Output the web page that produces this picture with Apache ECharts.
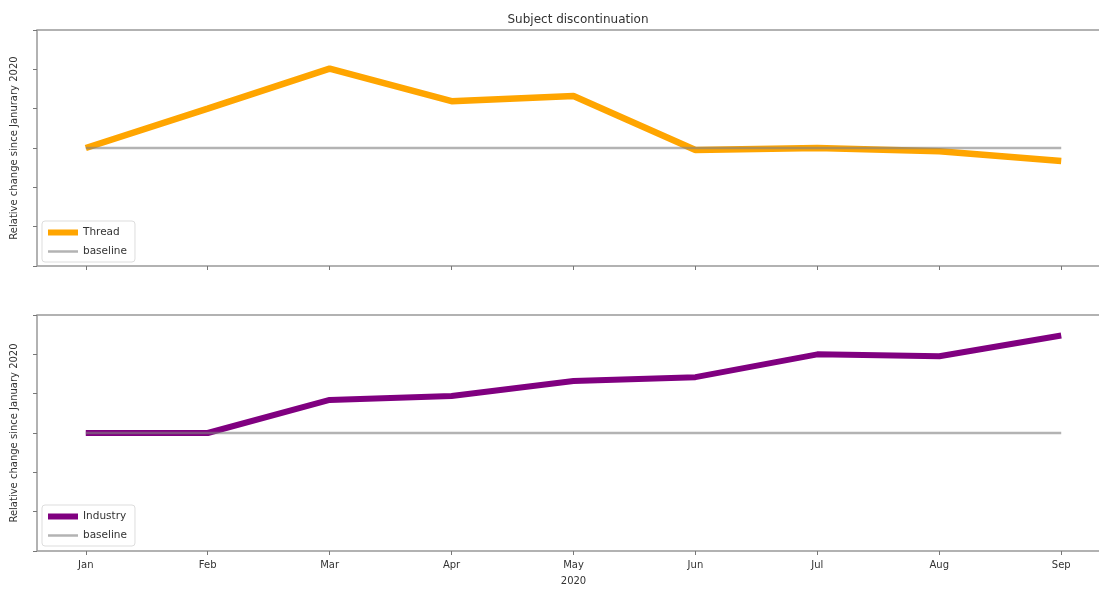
<!DOCTYPE html>
<html>
<head>
<meta charset="utf-8">
<script src="https://cdn.jsdelivr.net/npm/echarts@6/dist/echarts.min.js"></script>
<style>
  html, body { margin: 0; padding: 0; background: #fff; }
  #chart { width: 1099px; height: 589px; }
</style>
</head>
<body>
<div id="chart"></div>
<script>
const months = ['Jan', 'Feb', 'Mar', 'Apr', 'May', 'Jun', 'Jul', 'Aug', 'Sep']
const threadValues = [0, 1.0, 2.02, 1.19, 1.32, -0.05, 0.0, -0.08, -0.33]
const industryValues = [0, 0, 0.84, 0.94, 1.32, 1.42, 2.0, 1.95, 2.48]
const baselineValues = [0, 0, 0, 0, 0, 0, 0, 0, 0]
const yTicks = [-3, -2, -1, 0, 1, 2, 3]

const font = 'DejaVu Sans'
const monthIdx = months.map((m, i) => i)
const pairs = (vals) => vals.map((v, i) => [i, v])

const orange = '#FFA500'
const purple = '#800080'
const grey = 'rgba(128,128,128,0.6)'

const chart = echarts.init(document.getElementById('chart'))

const xAxisFor = (gridIndex, showLabels) => ({
  type: 'value',
  gridIndex,
  min: -0.4,
  max: 8.4,
  splitLine: { show: false },
  axisLine: { show: false, onZero: false },
  axisTick: {
    show: true,
    customValues: monthIdx,
    length: 4,
    lineStyle: { color: '#777' }
  },
  axisLabel: {
    show: showLabels,
    customValues: monthIdx,
    formatter: (v) => months[Math.round(v)],
    color: '#333',
    fontFamily: font,
    fontSize: 10,
    margin: 9
  },
  name: showLabels ? '2020' : '',
  nameLocation: 'middle',
  nameGap: 25,
  nameTextStyle: { color: '#333', fontFamily: font, fontSize: 10 }
})

const yAxisFor = (gridIndex, name) => ({
  type: 'value',
  gridIndex,
  min: yTicks[0],
  max: yTicks[yTicks.length - 1],
  interval: 1,
  splitLine: { show: false },
  axisLine: { show: false, onZero: false },
  axisTick: { show: true, length: 4, lineStyle: { color: '#777' } },
  axisLabel: { show: false },
  name,
  nameLocation: 'middle',
  nameGap: 18,
  nameTextStyle: { color: '#333', fontFamily: font, fontSize: 10 }
})

const baselineSeries = (idx) => ({
  name: 'baseline',
  type: 'line',
  xAxisIndex: idx,
  yAxisIndex: idx,
  data: pairs(baselineValues),
  showSymbol: false,
  symbol: 'none',
  z: 3,
  lineStyle: { color: grey, width: 2.5 },
  itemStyle: { color: grey }
})

const legendFor = (top, main, color) => ({
  orient: 'vertical',
  left: 42,
  top,
  data: [
    { name: main, lineStyle: { color, width: 6 } },
    { name: 'baseline', lineStyle: { color: grey, width: 2.5 } }
  ],
  itemWidth: 30,
  itemHeight: 10,
  itemGap: 8,
  padding: [6, 8, 5, 3],
  itemStyle: { color: 'transparent', borderColor: 'transparent', borderWidth: 0, opacity: 0 },
  backgroundColor: '#fff',
  borderColor: '#ddd',
  borderWidth: 1,
  borderRadius: 3,
  textStyle: { color: '#333', fontFamily: font, fontSize: 10.5 }
})

const gridFor = (top) => ({
  left: 37,
  width: 1073,
  top,
  height: 236,
  outerBoundsMode: 'none',
  show: true,
  borderColor: '#999',
  borderWidth: 1.5,
  backgroundColor: 'transparent'
})

const option = {
  animation: false,
  backgroundColor: '#fff',
  title: {
    text: 'Subject discontinuation',
    left: 573,
    textAlign: 'center',
    top: 9,
    textStyle: { color: '#333', fontFamily: font, fontSize: 12, fontWeight: 'normal' }
  },
  grid: [gridFor(30), gridFor(315)],
  legend: [
    legendFor(221, 'Thread', orange),
    legendFor(505, 'Industry', purple)
  ],
  xAxis: [xAxisFor(0, false), xAxisFor(1, true)],
  yAxis: [
    yAxisFor(0, 'Relative change since Janurary 2020'),
    yAxisFor(1, 'Relative change since January 2020')
  ],
  series: [
    {
      name: 'Thread',
      type: 'line',
      xAxisIndex: 0,
      yAxisIndex: 0,
      data: pairs(threadValues),
      showSymbol: false,
      symbol: 'none',
      z: 2,
      lineStyle: { color: orange, width: 6.5 },
      itemStyle: { color: orange }
    },
    baselineSeries(0),
    {
      name: 'Industry',
      type: 'line',
      xAxisIndex: 1,
      yAxisIndex: 1,
      data: pairs(industryValues),
      showSymbol: false,
      symbol: 'none',
      z: 2,
      lineStyle: { color: purple, width: 6 },
      itemStyle: { color: purple }
    },
    baselineSeries(1)
  ]
}

chart.setOption(option)
</script>
</body>
</html>
